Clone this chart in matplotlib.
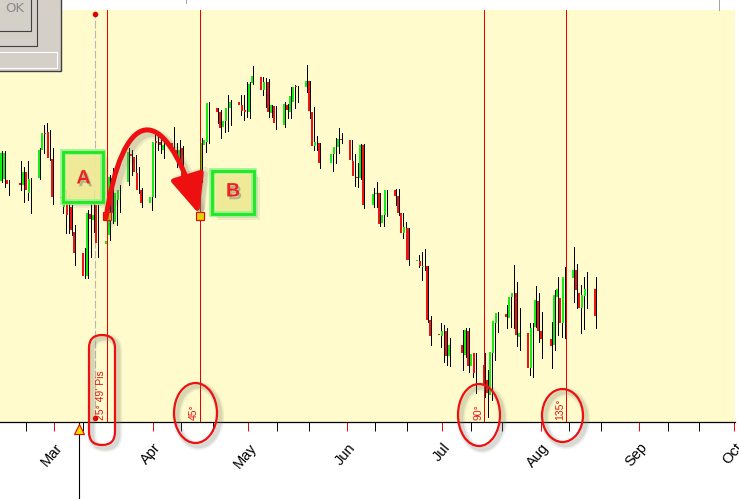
import matplotlib
matplotlib.use('Agg')
import matplotlib.pyplot as plt
import matplotlib.dates as mdates
import matplotlib.patheffects as pe
from matplotlib.patches import Ellipse, FancyBboxPatch, Rectangle, FancyArrowPatch, ArrowStyle, PathPatch
from matplotlib.lines import Line2D
from matplotlib.path import Path
from matplotlib.transforms import Affine2D, blended_transform_factory
import numpy as np
import pandas as pd

# pregões de 2009 (sem feriados americanos)
feriados = ['2009-02-16', '2009-04-10', '2009-05-25', '2009-07-03']
datas = pd.bdate_range('2009-02-11', '2009-08-17')
datas = datas[~datas.isin(pd.to_datetime(feriados))]

abertura = [249, 251, 250, 247, 245, 258, 237, 252, 280, 297, 298, 271, 233, 223, 227, 223, 198,
            177, 154, 216, 210, 225, 186, 195, 252, 208, 230, 248, 276, 273, 257, 240, 227, 233,
            289, 288, 280, 287, 280, 273, 282, 242, 239, 250, 285, 288, 322, 318, 303, 309, 322,
            328, 325, 320, 318, 347, 353, 340, 348, 317, 324, 305, 325, 318, 328, 344, 343, 349,
            318, 284, 287, 267, 276, 283, 291, 290, 269, 253, 252, 285, 225, 236, 237, 207, 215,
            240, 234, 217, 197, 202, 169, 169, 163, 164, 110, 96, 94, 99, 74, 85, 75, 99, 64, 77,
            65, 50, 35, 77, 107, 116, 112, 133, 137, 93, 97, 62, 103, 129, 99, 91, 85, 133, 132,
            107, 152, 160, 137, 122, 134, 141]
maxima = [279, 279, 250, 269, 263, 269, 252, 282, 305, 307, 300, 282, 234, 240, 235, 225, 205,
          182, 220, 227, 240, 225, 207, 255, 262, 240, 245, 282, 280, 275, 263, 242, 242, 298,
          297, 295, 293, 303, 287, 290, 284, 248, 250, 292, 297, 328, 322, 320, 319, 335, 330,
          335, 335, 348, 348, 364, 353, 352, 351, 325, 324, 328, 326, 343, 345, 344, 365, 349,
          323, 294, 287, 283, 292, 302, 297, 290, 276, 267, 286, 286, 242, 248, 237, 233, 240,
          241, 241, 217, 208, 202, 175, 178, 181, 164, 114, 107, 105, 102, 92, 100, 102, 102, 77,
          77, 77, 60, 78, 109, 118, 125, 135, 165, 148, 122, 107, 107, 144, 137, 118, 108, 140,
          153, 140, 163, 183, 166, 145, 153, 158, 153]
minima = [248, 243, 235, 240, 228, 230, 217, 251, 277, 287, 270, 226, 217, 197, 197, 195, 165,
          152, 152, 173, 198, 173, 155, 190, 207, 205, 218, 245, 255, 250, 237, 223, 220, 233,
          280, 277, 272, 282, 263, 265, 237, 233, 233, 248, 278, 287, 307, 292, 298, 299, 305,
          315, 310, 313, 312, 346, 335, 323, 313, 313, 301, 303, 312, 312, 322, 328, 338, 312,
          280, 280, 262, 259, 267, 277, 287, 257, 244, 243, 251, 222, 223, 223, 204, 204, 214,
          225, 215, 192, 190, 165, 163, 150, 160, 108, 85, 83, 68, 65, 64, 60, 73, 58, 53, 37,
          33, 13, 30, 70, 98, 102, 103, 102, 84, 80, 55, 53, 103, 88, 72, 62, 80, 95, 93, 92,
          128, 122, 97, 101, 122, 102]
fechamento = [277, 277, 246, 245, 258, 240, 251, 280, 297, 296, 272, 233, 232, 227, 215, 200, 177,
              154, 217, 211, 215, 187, 189, 253, 217, 237, 240, 278, 274, 258, 240, 227, 233, 288,
              287, 285, 285, 283, 275, 280, 240, 239, 248, 287, 290, 327, 318, 302, 309, 322, 328,
              325, 319, 318, 346, 354, 340, 348, 318, 325, 307, 326, 320, 334, 343, 343, 349, 319,
              284, 288, 267, 276, 283, 291, 290, 270, 254, 252, 285, 225, 236, 237, 206, 215, 240,
              234, 217, 197, 203, 170, 170, 164, 164, 110, 94, 95, 99, 74, 85, 77, 100, 64, 76, 57,
              45, 37, 78, 109, 117, 113, 133, 137, 95, 97, 62, 102, 130, 99, 91, 84, 135, 141, 107,
              153, 160, 140, 122, 135, 141, 114]

# linhas verticais dos ângulos
linhas = pd.to_datetime(['2009-03-17 14:00', '2009-04-15 20:00', '2009-07-14 05:00', '2009-08-09 00:00'])
rotulos = ["25° 49' Pis", '45°', '90°', '135°']
data_tracejada = pd.Timestamp('2009-03-13 19:30')
data_cursor = pd.Timestamp('2009-03-08 18:30')
preco_ponto = 214
meses = pd.date_range('2009-03-01', '2009-10-01', freq='MS')
dias_10_20 = [d for d in pd.date_range('2009-02-15', '2009-09-30') if d.day in (10, 20)]

W, H = 739, 499
fig = plt.figure(figsize=(W / 100, H / 100), dpi=100)
fig.patch.set_facecolor('white')
ax = fig.add_axes([0, 77 / H, 735 / W, 412 / H])
ax.set_facecolor('#fffbcd')
trans = blended_transform_factory(ax.transData, ax.transAxes)
pix = Affine2D().scale(1 / W, -1 / H).translate(0, 1) + fig.transFigure

# candles
x = mdates.date2num(datas)
o = np.array(abertura)
c = np.array(fechamento)
cores = np.where(c >= o, '#16ec16', '#ee1414')
ax.vlines(x + 1.6, minima, maxima, color='black', lw=0.7, antialiased=False, zorder=3)
ax.bar(x + 0.82, np.maximum(np.abs(c - o), 1), bottom=np.minimum(o, c), width=0.63,
       align='edge', color=cores, antialiased=False, zorder=3)

ax.set_yticks([])
ax.set_xticks(mdates.date2num(meses))
ax.set_xticks(mdates.date2num(dias_10_20), minor=True)
# limites depois dos ticks (set_xticks expande a escala)
ax.set_xlim(mdates.date2num(pd.Timestamp('2009-02-11 21:50')),
            mdates.date2num(pd.Timestamp('2009-10-01 04:30')))
ax.set_ylim(8, 420)
ax.tick_params(axis='x', which='major', length=6.5, width=0.7, color='#ee0000', labelbottom=False)
ax.tick_params(axis='x', which='minor', length=6.5, width=0.7, color='black')
for s in ['top', 'left', 'right']:
    ax.spines[s].set_visible(False)
ax.spines['bottom'].set_linewidth(0.9)

for m in meses:
    ax.text(mdates.date2num(m) + 1.8, -0.056, m.strftime('%b'), transform=trans, rotation=50,
            ha='right', va='center', rotation_mode='anchor', fontsize=10.5,
            family='Liberation Sans', clip_on=False)

# linhas dos ângulos e rótulos
for dt, r in zip(linhas, rotulos):
    xv = mdates.date2num(dt)
    ax.axvline(xv, color='#ee0000', lw=0.7, antialiased=False, zorder=4)
    ax.text(xv - 0.3, 0.004, r, transform=trans, rotation=90, ha='right', va='bottom',
            color='#e81414', fontsize=7.5, family='Liberation Sans', zorder=5)

xt = mdates.date2num(data_tracejada)
ax.plot([xt, xt], [12, 416], color='#b8b8b8', lw=0.8, ls=(0, (7, 2)), zorder=2)
ax.plot([xt, xt], [12, 416], 'o', color='#e00000', ms=3, zorder=5)

xc = mdates.date2num(data_cursor)
ax.plot([xc, xc], [0, -0.25], transform=trans, color='black', lw=0.8, clip_on=False)
ax.plot([xc], [-0.018], '^', transform=trans, ms=7, mfc='#f0e000', mec='#ee0000', mew=0.8,
        clip_on=False, zorder=6)

# elipses vermelhas com sombra
formas = [FancyBboxPatch((89, 335), 26, 110, boxstyle='round,pad=0,rounding_size=13'),
          Ellipse((195.5, 413), 43, 60), Ellipse((479, 415), 42, 62), Ellipse((562.5, 415.5), 41, 53)]
for f in formas:
    for dx, lw, a in [(3, 6, 0.12), (3, 3.5, 0.2)]:
        sombra = PathPatch(f.get_path(), transform=f.get_patch_transform() +
                           Affine2D().translate(dx, dx) + pix,
                           fill=False, ec='#808070', lw=lw, alpha=a)
        fig.add_artist(sombra)
    f.set_transform(pix)
    f.set_fill(False)
    f.set_edgecolor('#ee1010')
    f.set_linewidth(1.6)
    fig.add_artist(f)

# caixas A e B
for (bx, by, bw, bh), letra, (lx, ly) in [((63, 152, 40, 50), 'A', (83.5, 179)),
                                           ((212, 171, 42, 43), 'B', (233, 192))]:
    for k, a in [(6, 0.10), (4, 0.15), (2, 0.2)]:
        fig.add_artist(Rectangle((bx + k, by + k), bw, bh, transform=pix, fc='#707060',
                                 ec='none', alpha=a))
    fig.add_artist(Rectangle((bx, by), bw, bh, transform=pix, fc='#f2ee98', ec='#8cf58c',
                             lw=4, alpha=0.93))
    fig.add_artist(Rectangle((bx, by), bw, bh, transform=pix, fill=False, ec='#22e622', lw=2))
    fig.text(lx, ly, letra, transform=pix, ha='center', va='center', fontsize=14,
             fontweight='bold', color='#ee2222', family='Liberation Sans',
             path_effects=[pe.SimplePatchShadow(offset=(1.5, -2), shadow_rgbFace='#909080', alpha=0.6),
                           pe.Normal()])

# seta curva
caminho = Path([(106, 218), (122, 110), (162, 95), (199, 214)],
               [Path.MOVETO, Path.CURVE4, Path.CURVE4, Path.CURVE4])
estilo = ArrowStyle('-|>', head_length=1.25, head_width=0.55)
for dx, lw, a in [(5, 7, 0.12), (4, 5, 0.18)]:
    fig.add_artist(FancyArrowPatch(path=caminho, transform=Affine2D().translate(dx, dx) + pix,
                                   arrowstyle=estilo, mutation_scale=19, color='#707060',
                                   lw=lw, alpha=a, shrinkA=0, shrinkB=0))
fig.add_artist(FancyArrowPatch(path=caminho, transform=pix, arrowstyle=estilo, mutation_scale=19,
                               color='#ee1010', lw=3.6, shrinkA=0, shrinkB=0))

# quadradinhos nos pontos A e B
ax.plot(mdates.date2num(linhas[:2]), [preco_ponto, preco_ponto], 's', ms=5.5,
        mfc='#e8d000', mec='#ee0000', mew=0.8, zorder=6)

# faixa branca de cima (pequenos separadores)
fig.add_artist(Line2D([185.5, 185.5], [0, 3], transform=pix, color='#a0a0a0', lw=0.7))
fig.add_artist(Line2D([718.5, 718.5], [0, 10], transform=pix, color='#a0a0a0', lw=0.7))

# janela cinza no canto
fig.add_artist(Rectangle((0, 0), 61, 72, transform=pix, fc='#d4d0c8', ec='none'))
fig.add_artist(Rectangle((-2, -2), 39, 48, transform=pix, fc='#d4d0c8', ec='#404040', lw=0.8))
fig.add_artist(Rectangle((-2, -2), 33, 33, transform=pix, fc='#d4d0c8', ec='#404040', lw=0.8))
fig.add_artist(Rectangle((-2, 52), 59, 16, transform=pix, fc='#d4d0c8', ec='white', lw=0.8))
fig.add_artist(Rectangle((-2, -2), 62.5, 73.5, transform=pix, fill=False, ec='#404040', lw=1))
fig.text(5, 8, 'OK', transform=pix, ha='left', va='center', fontsize=9.5, color='#8a8a8a',
         family='DejaVu Sans')

fig.savefig('out.png', dpi=100)
